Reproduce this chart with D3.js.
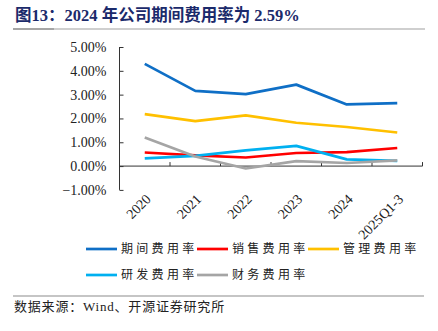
<!DOCTYPE html>
<html>
<head>
<meta charset="utf-8">
<script src="https://cdn.jsdelivr.net/npm/d3@7"></script>
<style>
  body { margin: 0; background: #fff; }
  svg text { font-family: "Liberation Serif", "Noto Sans CJK SC", serif; }
</style>
</head>
<body>
<div id="chart"></div>
<script>
// Expense ratios 2020 - 2025Q1-3
var years = ["2020", "2021", "2022", "2023", "2024", "2025Q1-3"];
var periodRate = [4.29, 3.16, 3.02, 3.42, 2.59, 2.64];
var salesRate = [0.57, 0.45, 0.36, 0.55, 0.59, 0.76];
var adminRate = [2.18, 1.89, 2.13, 1.82, 1.64, 1.41];
var rndRate = [0.32, 0.43, 0.66, 0.85, 0.28, 0.22];
var financeRate = [1.20, 0.40, -0.10, 0.21, 0.13, 0.24];
var yTicks = [-1, 0, 1, 2, 3, 4, 5];

var series = [
  { name: "期间费用率", values: periodRate, color: "#0f6fc6" },
  { name: "销售费用率", values: salesRate, color: "#ff0000" },
  { name: "管理费用率", values: adminRate, color: "#ffc000" },
  { name: "研发费用率", values: rndRate, color: "#00b0f0" },
  { name: "财务费用率", values: financeRate, color: "#a5a5a5" }
];

var w = 438, h = 331;

var svg = d3.select("#chart").append("svg")
  .attr("width", w)
  .attr("height", h);

// title
svg.append("text")
  .attr("x", 15)
  .attr("y", 21)
  .attr("fill", "#1b2a6b")
  .style("font-size", "16.5px")
  .style("font-weight", "bold")
  .style("font-family", "'Liberation Serif', 'Noto Sans CJK SC', serif")
  .text("图13：2024 年公司期间费用率为 2.59%");

svg.append("line")
  .attr("x1", 13).attr("x2", 425)
  .attr("y1", 29).attr("y2", 29)
  .attr("stroke", "#a0a0a0")
  .attr("stroke-width", 1.2);
svg.append("line")
  .attr("x1", 13).attr("x2", 54)
  .attr("y1", 29).attr("y2", 29)
  .attr("stroke", "#7f7f7f")
  .attr("stroke-width", 1.2);

var x = d3.scaleBand()
  .domain(years)
  .range([119.5, 422.5]);

var y = d3.scaleLinear()
  .domain([-1, 5])
  .range([189.9, 47]);

// y axis, ticks point inward
var yAxis = svg.append("g")
  .attr("transform", "translate(119.5,0)")
  .call(d3.axisLeft(y)
    .tickValues(yTicks)
    .tickSize(4)
    .tickFormat(function(d) { return d3.format(".2f")(d) + "%"; }));
yAxis.select(".domain").attr("stroke", "#333").attr("d", "M0," + y(5) + "V" + y(-1));
yAxis.selectAll(".tick line").attr("stroke", "#333").attr("x2", 4).attr("x1", 0);
yAxis.selectAll(".tick text")
  .attr("x", -13)
  .attr("fill", "#222")
  .style("font-size", "14px")
  .style("font-family", "'Liberation Serif', serif");

// x axis at zero
var xAxis = svg.append("g")
  .attr("transform", "translate(0," + y(0) + ")");
xAxis.append("line")
  .attr("x1", 119.5).attr("x2", 422.5)
  .attr("stroke", "#333");
xAxis.selectAll(".tk")
  .data(years)
.enter().append("line")
  .attr("class", "tk")
  .attr("x1", function(d) { return x(d) + x.bandwidth(); })
  .attr("x2", function(d) { return x(d) + x.bandwidth(); })
  .attr("y1", 0).attr("y2", -4)
  .attr("stroke", "#333");

svg.selectAll(".xlab")
  .data(years)
.enter().append("text")
  .attr("class", "xlab")
  .attr("text-anchor", "end")
  .attr("fill", "#222")
  .style("font-size", "14px")
  .attr("transform", function(d) {
    return "translate(" + (x(d) + x.bandwidth() / 2 + 7) + ",200) rotate(-45)";
  })
  .text(String);

// lines
var line = d3.line()
  .x(function(d, i) { return x(years[i]) + x.bandwidth() / 2; })
  .y(function(d) { return y(d); });

svg.selectAll(".series")
  .data(series)
.enter().append("path")
  .attr("class", "series")
  .attr("fill", "none")
  .attr("stroke", function(d) { return d.color; })
  .attr("stroke-width", 2.7)
  .attr("stroke-linejoin", "round")
  .attr("d", function(d) { return line(d.values); });

// legend
var lg = svg.selectAll(".legend")
  .data(series)
.enter().append("g")
  .attr("class", "legend")
  .attr("transform", function(d, i) {
    return "translate(" + (86 + (i % 3) * 111) + "," + (249 + Math.floor(i / 3) * 26) + ")";
  });

lg.append("line")
  .attr("x1", 0).attr("x2", 31)
  .attr("stroke", function(d) { return d.color; })
  .attr("stroke-width", 2.7);

lg.append("text")
  .attr("x", 35)
  .attr("dy", "0.35em")
  .attr("fill", "#222")
  .style("font-size", "12px")
  .style("letter-spacing", "3.3px")
  .style("font-family", "'Noto Sans CJK SC', sans-serif")
  .text(function(d) { return d.name; });

// source
svg.append("line")
  .attr("x1", 13).attr("x2", 424)
  .attr("y1", 296).attr("y2", 296)
  .attr("stroke", "#8c8c8c")
  .attr("stroke-width", 1.2);

svg.append("text")
  .attr("x", 14)
  .attr("y", 311)
  .attr("fill", "#222")
  .style("font-size", "13px")
  .style("letter-spacing", "0.8px")
  .text("数据来源：Wind、开源证券研究所");
</script>
</body>
</html>
